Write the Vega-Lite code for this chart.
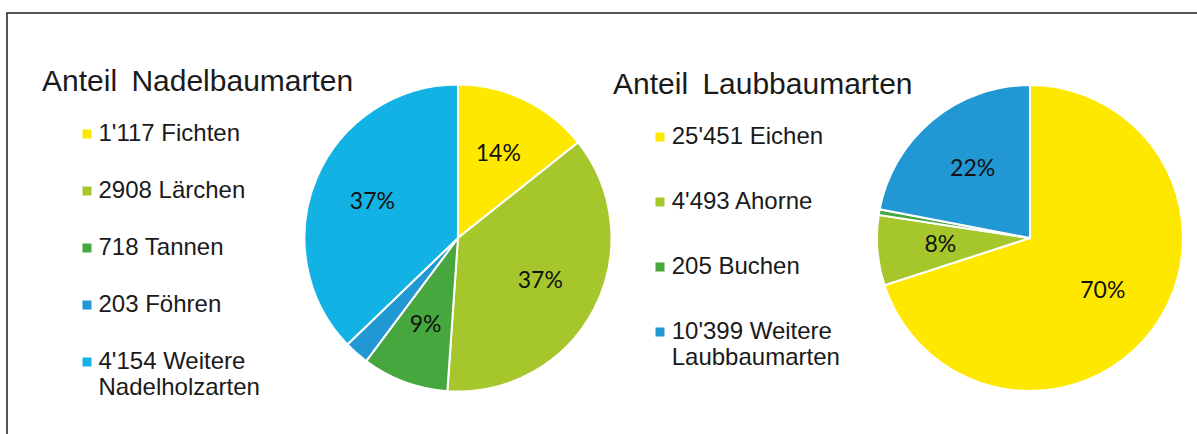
{
  "$schema": "https://vega.github.io/schema/vega-lite/v6.json",
  "width": 1197,
  "height": 434,
  "autosize": {"type": "fit", "contains": "padding"},
  "padding": {"left": 7, "top": 13, "right": -3, "bottom": -29},
  "background": "white",
  "config": {
    "view": {"stroke": "#1e1e1e", "strokeWidth": 1.5},
    "font": "Liberation Sans"
  },
  "datasets": {
    "nadel": [
      {"chart": "Nadel", "name": "1'117 Fichten", "share": 14.3, "pct": "14%", "rank": 1},
      {"chart": "Nadel", "name": "2908 Lärchen", "share": 36.8, "pct": "37%", "rank": 2},
      {"chart": "Nadel", "name": "718 Tannen", "share": 9.1, "pct": "9%", "rank": 3},
      {"chart": "Nadel", "name": "203 Föhren", "share": 2.6, "pct": "", "rank": 4},
      {"chart": "Nadel", "name": "4'154 Weitere|Nadelholzarten", "share": 37.2, "pct": "37%", "rank": 5}
    ],
    "laub": [
      {"chart": "Laub", "name": "25'451 Eichen", "share": 70, "pct": "70%", "rank": 1},
      {"chart": "Laub", "name": "4'493 Ahorne", "share": 7.4, "pct": "8%", "rank": 2},
      {"chart": "Laub", "name": "205 Buchen", "share": 0.6, "pct": "", "rank": 3},
      {"chart": "Laub", "name": "10'399 Weitere|Laubbaumarten", "share": 22, "pct": "22%", "rank": 4}
    ]
  },
  "encoding": {
    "x": {
      "field": "chart",
      "type": "nominal",
      "scale": {"type": "point", "domain": ["Nadel", "Laub"], "padding": 0.5428, "align": 0.7262},
      "axis": null
    }
  },
  "layer": [
    {
      "data": {"name": "nadel"},
      "encoding": {
        "theta": {"field": "share", "type": "quantitative", "stack": true},
        "order": {"field": "rank", "type": "quantitative"},
        "color": {
          "field": "name",
          "type": "nominal",
          "scale": {
            "domain": ["1'117 Fichten", "2908 Lärchen", "718 Tannen", "203 Föhren", "4'154 Weitere|Nadelholzarten"],
            "range": ["#FFE800", "#A6C72B", "#46A73F", "#2197D3", "#13B2E5"]
          },
          "legend": {
            "orient": "none",
            "legendX": 35,
            "legendY": 54,
            "padding": 0,
            "title": "Anteil\u2009 Nadelbaumarten",
            "titleFont": "Liberation Sans",
            "titleFontSize": 30,
            "titleFontWeight": "normal",
            "titleColor": "#1a1a1a",
            "titleLimit": 800,
            "titlePadding": 25,
            "symbolType": "square",
            "symbolSize": 81,
            "symbolStrokeWidth": 0,
            "symbolOffset": 33,
            "labelFont": "Liberation Sans",
            "labelFontSize": 24,
            "labelColor": "#1a1a1a",
            "labelOffset": -0.5,
            "labelLimit": 0,
            "labelLineHeight": 27.5,
            "rowPadding": 33,
            "labelExpr": "split(datum.label, '|')"
          }
        }
      },
      "layer": [
        {"mark": {"type": "arc", "outerRadius": 153.5, "stroke": "white", "strokeWidth": 2}},
        {
          "mark": {"type": "text", "radius": 93, "font": "Lato", "fontSize": 23, "align": "center", "baseline": "middle"},
          "encoding": {"text": {"field": "pct"}, "color": {"value": "#111111"}}
        }
      ]
    },
    {
      "data": {"name": "laub"},
      "encoding": {
        "theta": {"field": "share", "type": "quantitative", "stack": true},
        "order": {"field": "rank", "type": "quantitative"},
        "color": {
          "field": "name",
          "type": "nominal",
          "scale": {
            "domain": ["25'451 Eichen", "4'493 Ahorne", "205 Buchen", "10'399 Weitere|Laubbaumarten"],
            "range": ["#FFE800", "#A6C72B", "#46A73F", "#2197D3"]
          },
          "legend": {
            "orient": "none",
            "legendX": 606,
            "legendY": 57,
            "padding": 0,
            "title": "Anteil\u2009 Laubbaumarten",
            "titleFont": "Liberation Sans",
            "titleFontSize": 30,
            "titleFontWeight": "normal",
            "titleColor": "#1a1a1a",
            "titleLimit": 800,
            "titlePadding": 25,
            "symbolType": "square",
            "symbolSize": 81,
            "symbolStrokeWidth": 0,
            "symbolOffset": 35,
            "labelFont": "Liberation Sans",
            "labelFontSize": 24,
            "labelColor": "#1a1a1a",
            "labelOffset": -0.3,
            "labelLimit": 0,
            "labelLineHeight": 27.5,
            "rowPadding": 41,
            "labelExpr": "split(datum.label, '|')"
          }
        }
      },
      "layer": [
        {"mark": {"type": "arc", "outerRadius": 153, "stroke": "white", "strokeWidth": 2}},
        {
          "mark": {"type": "text", "radius": 90, "font": "Lato", "fontSize": 23, "align": "center", "baseline": "middle"},
          "encoding": {"text": {"field": "pct"}, "color": {"value": "#111111"}}
        }
      ]
    }
  ],
  "resolve": {"scale": {"theta": "independent", "color": "independent"}}
}
